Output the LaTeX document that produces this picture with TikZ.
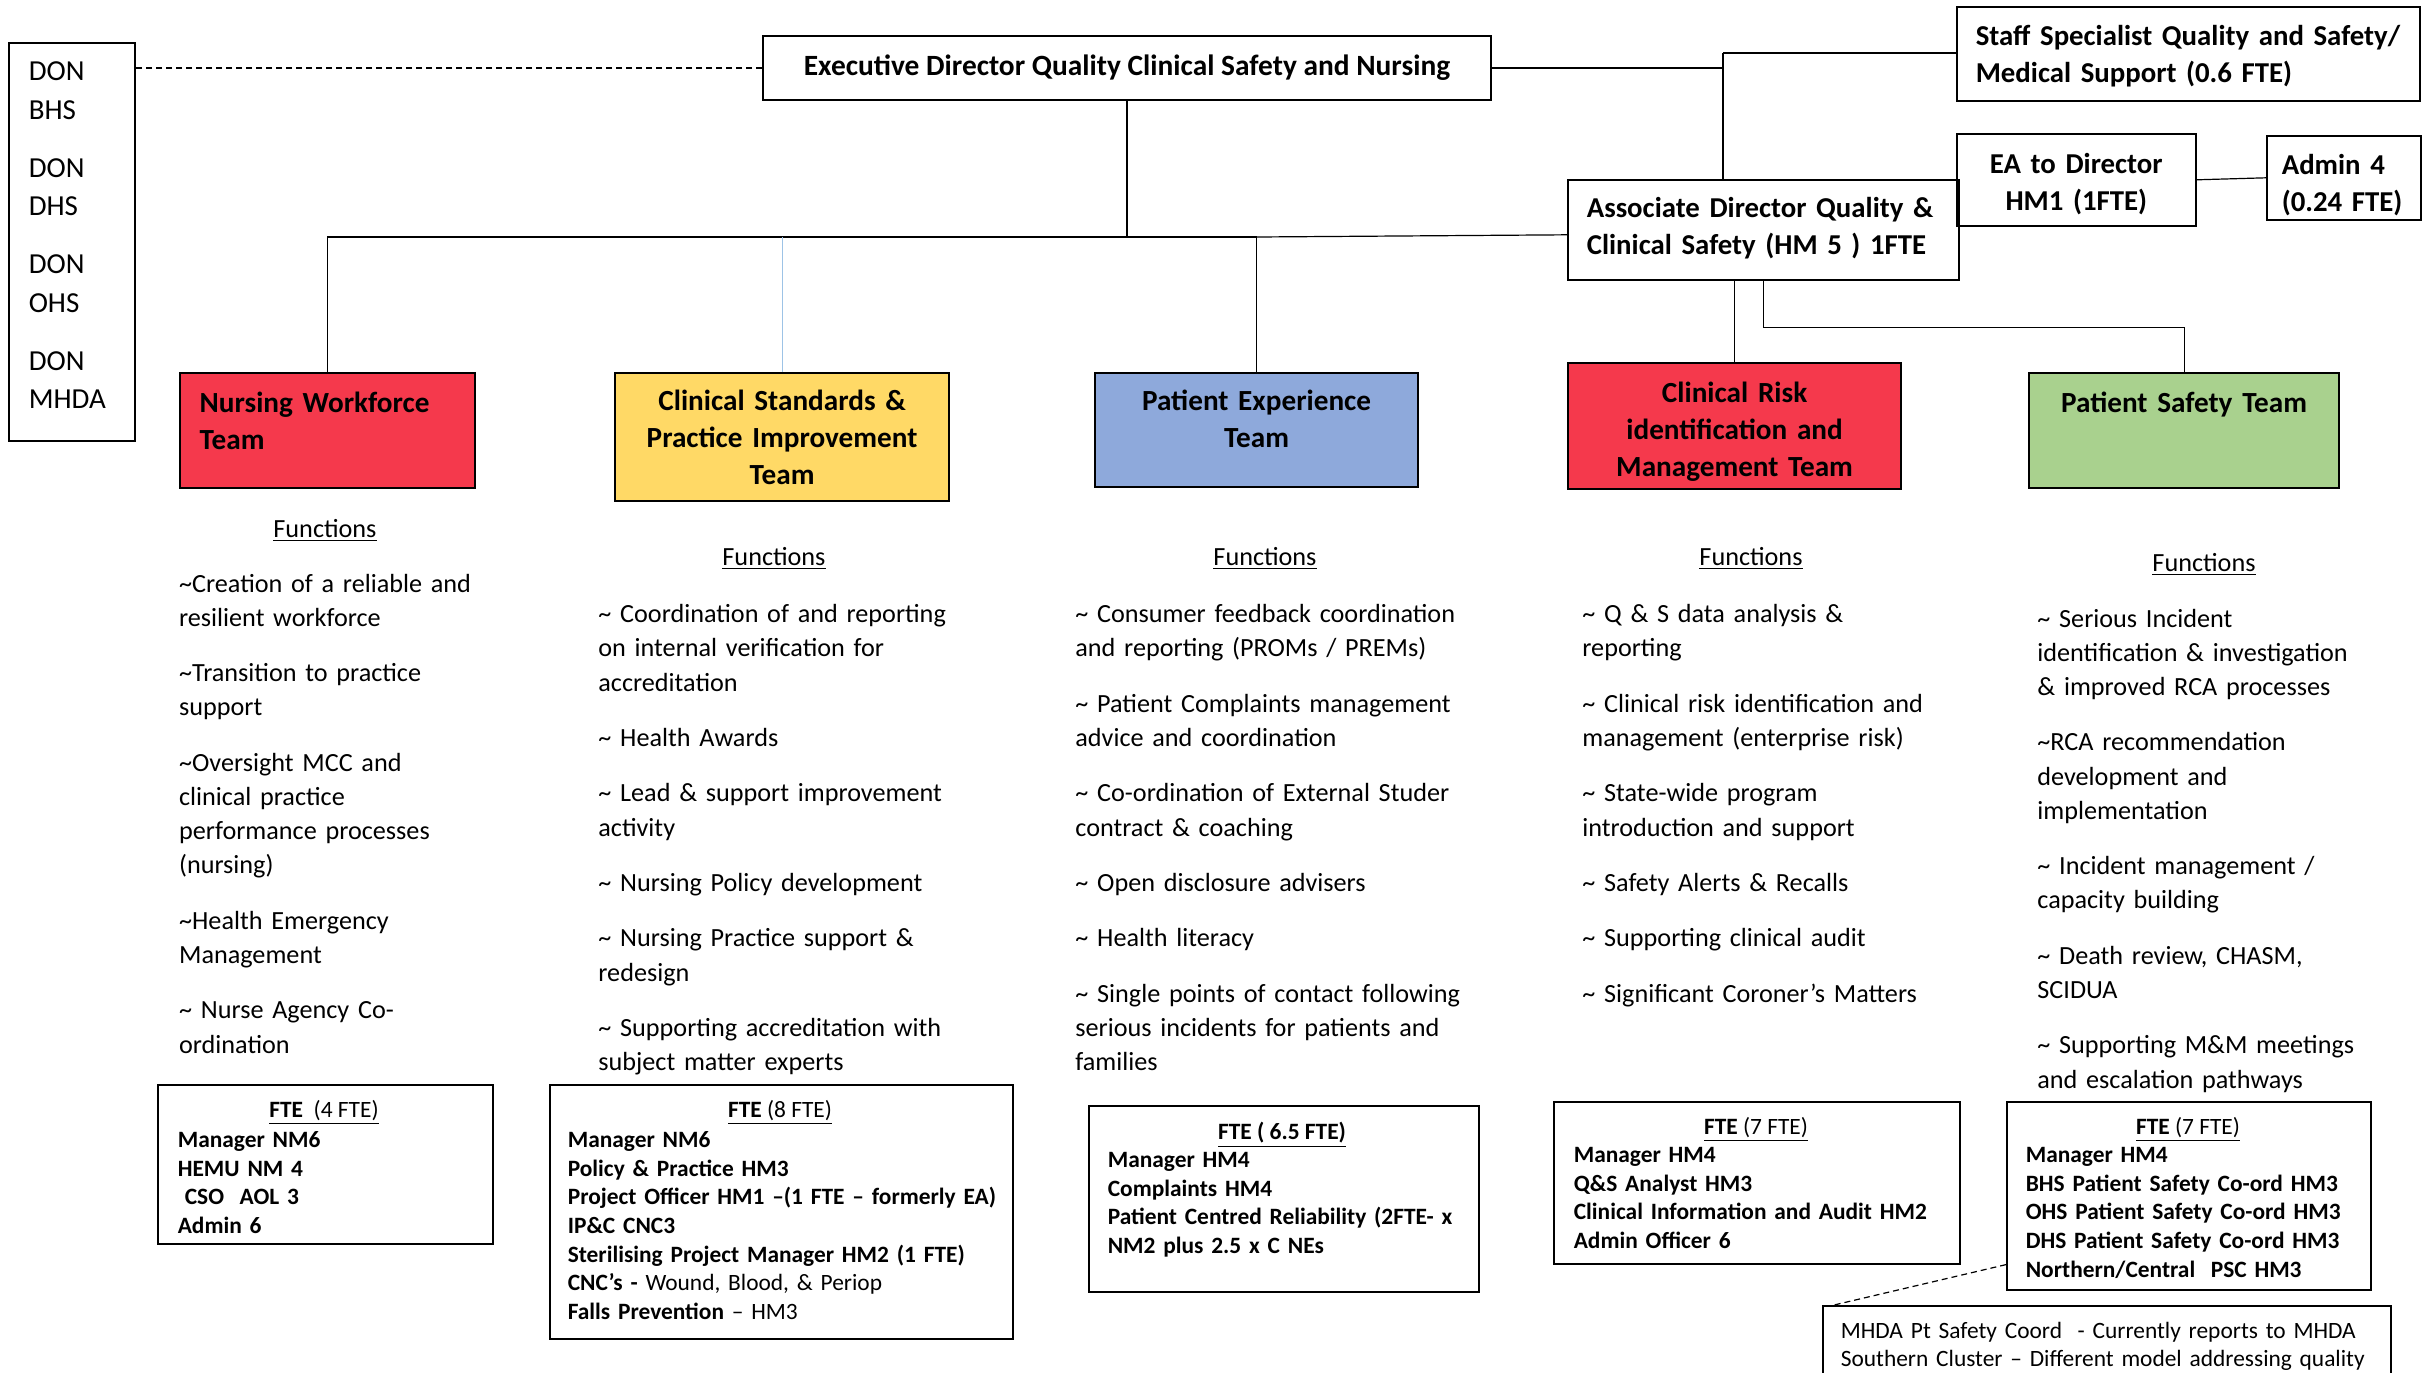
\documentclass[tikz,border=0pt]{standalone}
\usepackage{fontspec}
\setmainfont{Carlito}
\usepackage{tikz}

\definecolor{teamred}{HTML}{F5394C}
\definecolor{teamyellow}{HTML}{FFD966}
\definecolor{teamblue}{HTML}{8EA9DB}
\definecolor{teamgreen}{HTML}{A9D18E}
\definecolor{linkblue}{HTML}{9DC3E6}
\newcommand{\tld}{\textasciitilde}

\begin{document}
\begin{tikzpicture}[x=0.5pt,y=-0.5pt,
    box/.style={draw, line width=0.8pt, inner ysep=0pt, anchor=north west,
      font=\bfseries\fontsize{14.4}{18.5}\selectfont},
    team/.style={box, line width=1.1pt, align=center, inner xsep=5pt,
      font=\bfseries\fontsize{14.6}{18.5}\selectfont},
    fte/.style={box, align=left, font=\bfseries\fontsize{11.7}{14.35}\selectfont},
    ftehead/.style={anchor=base, inner sep=0pt, font=\fontsize{11.7}{14.35}\selectfont},
    fnhead/.style={anchor=base, inner sep=0pt, font=\fontsize{13.1}{17.1}\selectfont},
    fnlist/.style={anchor=base west, align=left, text width=200pt, inner sep=0pt,
      font=\fontsize{13.1}{17.1}\selectfont},
    link/.style={line width=0.6pt},
    dotlink/.style={link, dash pattern=on 3pt off 2pt}]

    \useasboundingbox (0,0) rectangle (2433,1372);

    \node[box, font=\fontsize{14.5}{19.25}\selectfont, align=left, text width=43pt, inner xsep=10pt,
      text height=19pt, text depth=180pt] at (8,42) (don)
      {DON\\BHS\\[9.75pt]DON\\DHS\\[9.75pt]DON\\OHS\\[9.75pt]DON\\MHDA};
    \node[box, anchor=center, minimum width=364pt, minimum height=32pt,
      font=\bfseries\fontsize{14.7}{18.5}\selectfont] at (1127,68) (exec)
      {Executive Director Quality Clinical Safety and Nursing};
    \node[box, align=left, text width=212.5pt, inner xsep=9.5pt, text height=19.25pt, text depth=27.75pt]
      at (1956,6) (staff) {\mbox{Staff Specialist Quality and Safety/}\\Medical Support (0.6 FTE)};
    \node[box, align=left, text width=176.5pt, inner xsep=9.5pt, text height=18.75pt, text depth=31.25pt]
      at (1567,179) (ad) {\mbox{Associate Director Quality \&}\\\mbox{Clinical Safety (HM 5 ) 1FTE}};
    \node[box, align=center, text width=109.5pt, inner xsep=5pt, text height=19.75pt, text depth=26.25pt]
      at (1956,133) (ea) {EA to Director\\HM1 (1FTE)};
    \node[box, align=left, text width=62pt, inner xsep=7.5pt, text height=19.25pt, text depth=22.75pt]
      at (2266,135) (adm) {Admin 4\\\mbox{(0.24 FTE)}};

    \node[team, fill=teamred, align=left, text width=127.5pt, inner xsep=10pt, text height=19.75pt,
      text depth=37.75pt] at (178.6,372) (nwt) {Nursing Workforce\\Team};
    \node[team, fill=teamyellow, text width=157pt, text height=18.75pt, text depth=45.25pt]
      at (614,372) (cs) {Clinical Standards \&\\Practice Improvement\\Team};
    \node[team, fill=teamblue, text width=151.5pt, text height=18.75pt, text depth=38.25pt]
      at (1094,372) (pe) {Patient Experience\\Team};
    \node[team, fill=teamred, text width=156.5pt, text height=19.75pt, text depth=43.25pt]
      at (1567,362) (cr) {Clinical Risk\\identification and\\Management Team};
    \node[team, fill=teamgreen, text width=145pt, text height=19.75pt, text depth=37.75pt]
      at (2028,372) (ps) {Patient Safety Team};

    \node[fnhead] at (325,537) (nwfn) {\underline{Functions}};
    \node[fnlist] at (178.7,592) (nwlist) {\tld Creation of a reliable and\\resilient workforce\\[10.6pt]%
      \tld Transition to practice\\support\\[10.6pt]%
      \tld Oversight MCC and\\clinical practice\\performance processes\\(nursing)\\[10.6pt]%
      \tld Health Emergency\\Management\\[10.6pt]%
      \tld\ Nurse Agency Co-\\ordination};
    \node[fnhead] at (774,565.5) (csfn) {\underline{Functions}};
    \node[fnlist] at (598,622.7) (cslist) {\tld\ Coordination of and reporting\\on internal verification for\\accreditation\\[10.6pt]%
      \tld\ Health Awards\\[10.6pt]%
      \tld\ Lead \& support improvement\\activity\\[10.6pt]%
      \tld\ Nursing Policy development\\[10.6pt]%
      \tld\ Nursing Practice support \&\\redesign\\[10.6pt]%
      \tld\ Supporting accreditation with\\subject matter experts};
    \node[fnhead] at (1265,565.5) (pefn) {\underline{Functions}};
    \node[fnlist] at (1075,622.7) (pelist) {\tld\ Consumer feedback coordination\\and reporting (PROMs / PREMs)\\[10.6pt]%
      \tld\ Patient Complaints management\\advice and coordination\\[10.6pt]%
      \tld\ Co-ordination of External Studer\\contract \& coaching\\[10.6pt]%
      \tld\ Open disclosure advisers\\[10.6pt]%
      \tld\ Health literacy\\[10.6pt]%
      \tld\ Single points of contact following\\serious incidents for patients and\\families};
    \node[fnhead] at (1751,565.5) (crfn) {\underline{Functions}};
    \node[fnlist] at (1582,622.7) (crlist) {\tld\ Q \& S data analysis \&\\reporting\\[10.6pt]%
      \tld\ Clinical risk identification and\\management (enterprise risk)\\[10.6pt]%
      \tld\ State-wide program\\introduction and support\\[10.6pt]%
      \tld\ Safety Alerts \& Recalls\\[10.6pt]%
      \tld\ Supporting clinical audit\\[10.6pt]%
      \tld\ Significant Coroner’s Matters};
    \node[fnhead] at (2204,571) (psfn) {\underline{Functions}};
    \node[fnlist] at (2037,627) (pslist) {\tld\ Serious Incident\\identification \& investigation\\\& improved RCA processes\\[10.6pt]%
      \tld RCA recommendation\\development and\\implementation\\[10.6pt]%
      \tld\ Incident management /\\capacity building\\[10.6pt]%
      \tld\ Death review, CHASM,\\SCIDUA\\[10.6pt]%
      \tld\ Supporting M\&M meetings\\and escalation pathways};

    \node[fte, text width=147.5pt, inner xsep=10pt, text height=31.25pt, text depth=48.25pt]
      at (157,1084) (nwfte) {Manager NM6\\HEMU NM 4\\\hspace{0.3em}CSO\ \ AOL 3\\Admin 6};
    \node[ftehead] at (324,1117.7) (nwftehead) {\underline{\textbf{FTE}\ \ (4 FTE)}};
    \node[fte, text width=213.5pt, inner xsep=9pt, text height=31.25pt, text depth=95.75pt]
      at (549,1084) (csfte) {Manager NM6\\Policy \& Practice HM3\\\mbox{Project Officer HM1 –(1 FTE – formerly EA)}\\IP\&C CNC3\\%
      Sterilising Project Manager HM2 (1 FTE)\\CNC’s - {\mdseries Wound, Blood, \& Periop}\\Falls Prevention {\mdseries – HM3}};
    \node[ftehead] at (780,1117.7) (csftehead) {\underline{\textbf{FTE} (8 FTE)}};
    \node[fte, text width=176pt, inner xsep=9.5pt, text height=30.85pt, text depth=62.15pt]
      at (1088,1105) (pefte) {Manager HM4\\Complaints HM4\\\mbox{Patient Centred Reliability (2FTE- x}\\NM2 plus 2.5 x C NEs};
    \node[ftehead] at (1282,1139.7) (peftehead) {\underline{\textbf{FTE ( 6.5 FTE)}}};
    \node[fte, text width=183pt, inner xsep=10pt, text height=30.35pt, text depth=50.65pt]
      at (1553,1101) (crfte) {Manager HM4\\Q\&S Analyst HM3\\Clinical Information and Audit HM2\\Admin Officer 6};
    \node[ftehead] at (1756,1134.7) (crftehead) {\underline{\textbf{FTE} (7 FTE)}};
    \node[fte, text width=163pt, inner xsep=9.5pt, text height=30.35pt, text depth=63.65pt]
      at (2006,1101) (psfte) {Manager HM4\\BHS Patient Safety Co-ord HM3\\OHS Patient Safety Co-ord HM3\\%
      DHS Patient Safety Co-ord HM3\\Northern/Central\ \ PSC HM3};
    \node[ftehead] at (2188,1134.7) (psftehead) {\underline{\textbf{FTE} (7 FTE)}};
    \node[box, font=\fontsize{11.7}{14}\selectfont, align=left, text width=266pt, inner xsep=9pt,
      text height=16.25pt, text depth=31.25pt] at (1822,1305) (mhda)
      {MHDA Pt Safety Coord\ \ - Currently reports to MHDA\\\mbox{Southern Cluster – Different model addressing quality}};

    \coordinate (hub) at (1127,237);
    \coordinate (split) at (1723,53);
    \draw[dotlink] (exec.west) -- (exec.west -| don.east);
    \draw[link] (exec.south) -- (hub) -| (nwt.north);
    \draw[link, linkblue] (cs.north) -- (cs.north |- hub);
    \draw[link] (hub) -- (pe.north |- hub) -- (pe.north);
    \draw[link] (pe.north |- hub) -- ([yshift=-2.5pt]ad.west);
    \draw[link] (exec.east) -- (exec.east -| split);
    \draw[link] (split) -- (split -| staff.west);
    \draw[link] (split) -- (split |- ad.north);
    \draw[link] (ea.east) -- (adm.west);
    \draw[link] (cr.north) -- (cr.north |- ad.south);
    \draw[link] (ad.south) -- ++(0,47) -| (ps.north);
    \draw[dotlink] ([yshift=13pt]psfte.south west) -- ([xshift=6pt]mhda.north west);
\end{tikzpicture}
\end{document}
